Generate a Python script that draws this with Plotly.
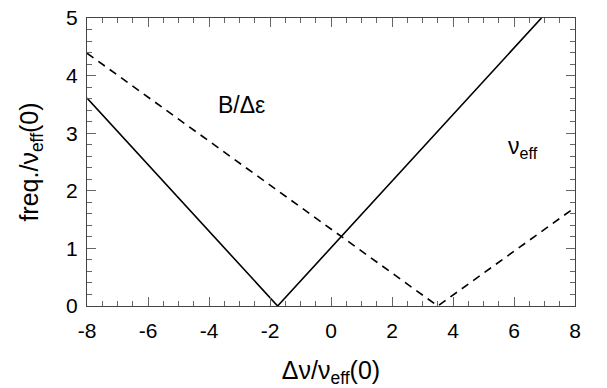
import plotly.graph_objects as go

# Data
solid_x = [-8.0, -1.75, 6.9]
solid_y = [3.61, 0.0, 5.0]
dashed_x = [-8.0, 3.5, 8.0]
dashed_y = [4.39, 0.0, 1.71]

x_tickvals = [-8, -6, -4, -2, 0, 2, 4, 6, 8]
x_ticktext = ["-8", "-6", "-4", "-2", "0", "2", "4", "6", "8"]
y_tickvals = [0, 1, 2, 3, 4, 5]
y_ticktext = ["0", "1", "2", "3", "4", "5"]

font = "Liberation Sans, Arial, sans-serif"

fig = go.Figure()
fig.add_trace(go.Scatter(x=solid_x, y=solid_y, mode="lines",
                         line=dict(color="black", width=1.6), showlegend=False))
fig.add_trace(go.Scatter(x=dashed_x, y=dashed_y, mode="lines",
                         line=dict(color="black", width=1.6, dash="8px,6px"), showlegend=False))

axis_common = dict(showgrid=False, zeroline=False, showline=True, linecolor="#444",
                   linewidth=1.2, mirror="allticks", ticks="inside", tickcolor="#666",
                   ticklen=9, tickwidth=1.2, automargin=False,
                   tickfont=dict(family=font, size=21, color="black"))

fig.update_xaxes(range=[-8, 8], tickvals=x_tickvals, ticktext=x_ticktext,
                 minor=dict(dtick=0.5, ticks="inside", ticklen=5, tickcolor="#666", tickwidth=1),
                 title=dict(text="Δν/ν<sub>eff</sub>(0)", font=dict(family=font, size=25, color="black"),
                            standoff=24),
                 ticklabelstandoff=6,
                 **axis_common)
fig.update_yaxes(range=[0, 5], tickvals=y_tickvals, ticktext=y_ticktext,
                 minor=dict(dtick=0.2, ticks="inside", ticklen=5, tickcolor="#666", tickwidth=1),
                 title=dict(text="freq./ν<sub>eff</sub>(0)", font=dict(family=font, size=25, color="black"),
                            standoff=20),
                 ticklabelstandoff=4,
                 **axis_common)

fig.add_annotation(x=-2.95, y=3.49, text="B/Δε", showarrow=False,
                   font=dict(family=font, size=23, color="black"))
fig.add_annotation(x=6.3, y=2.75, text="ν<sub>eff</sub>", showarrow=False,
                   font=dict(family=font, size=23, color="black"))

fig.update_layout(width=607, height=388, margin=dict(l=87, r=32, t=18, b=82),
                  plot_bgcolor="white", paper_bgcolor="white")

fig.write_html("out.html")
